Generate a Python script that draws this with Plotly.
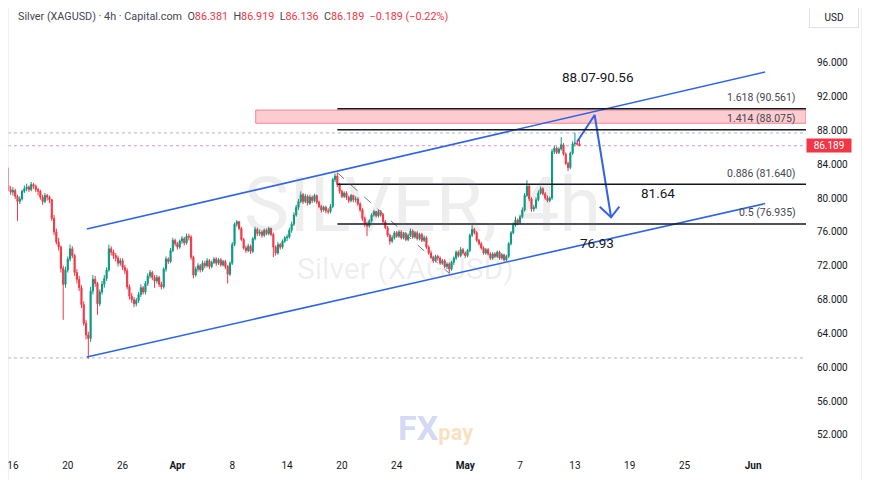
import plotly.graph_objects as go

# ---------------- data (4h candles, one row = one trading day) ----------------
open_ = [
    81.5, 81.0,
    80.7, 80.9, 80.2, 79.6, 79.9, 80.8,
    81.1, 81.3, 81.0, 81.6, 81.4, 81.0,
    80.8, 80.1, 79.6, 80.3, 80.1, 79.8,
    77.6, 76.0, 74.8, 74.2, 71.7, 69.8,
    71.5, 72.8, 74.0, 73.2, 71.2, 70.4,
    69.4, 67.4, 65.2, 63.8, 63.4, 69.0,
    70.4, 69.9, 67.5, 68.9, 69.8, 70.5,
    71.5, 74.0, 73.6, 73.2, 72.9, 72.3,
    72.6, 71.8, 71.4, 69.5, 68.4, 68.0,
    67.5, 67.9, 68.6, 69.4, 68.9, 69.9,
    70.8, 71.2, 70.6, 70.2, 70.6, 69.8,
    69.5, 71.6, 72.8, 72.5, 73.8, 75.0,
    74.6, 74.2, 74.9, 75.2, 74.7, 75.5,
    75.4, 73.0, 70.9, 71.6, 72.0, 71.5,
    72.3, 72.0, 72.6, 71.9, 72.4, 72.8,
    72.3, 72.7, 72.1, 72.5, 71.9, 71.0,
    72.3, 74.5, 76.9, 77.2, 76.4, 75.1,
    74.1, 73.8, 74.3, 73.7, 75.2, 76.3,
    75.8, 76.0, 75.6, 76.2, 75.8, 76.4,
    75.7, 74.2, 73.5, 74.5, 74.2, 74.9,
    75.3, 75.4, 76.2, 76.9, 78.0, 78.9,
    79.6, 80.4, 79.6, 80.2, 79.4, 80.1,
    79.7, 80.3, 79.5, 79.0, 78.6, 78.9,
    78.5, 78.4, 79.0, 82.2, 82.6, 81.6,
    80.8, 80.2, 80.6, 80.1, 79.7, 80.3,
    79.8, 79.9, 79.3, 78.6, 77.6, 76.9,
    76.7, 77.3, 78.0, 78.4, 77.9, 78.4,
    78.0, 77.2, 76.5, 75.6, 74.9, 75.3,
    75.9, 75.5, 76.0, 75.3, 75.8, 75.1,
    75.6, 76.1, 75.4, 75.9, 75.2, 75.7,
    75.0, 75.3, 74.2, 73.5, 73.0, 72.6,
    73.1, 72.9, 72.3, 72.6, 71.9, 72.2,
    71.6, 72.4, 72.9, 73.6, 73.2, 73.9,
    73.5, 73.2, 73.8, 75.6, 76.3, 75.9,
    75.0, 74.6, 74.1, 73.5, 73.9, 73.4,
    72.9, 73.4, 73.1, 73.6, 72.9, 73.3,
    72.7, 73.1, 74.6, 75.9, 76.8, 77.4,
    77.1, 77.8, 78.6, 80.3, 81.4, 79.9,
    78.7, 78.9, 79.8, 80.6, 81.1, 80.5,
    80.0, 79.7, 80.0, 85.5, 85.9, 85.4,
    85.8, 86.3, 85.2, 84.1, 83.6, 85.3,
    86.4, 86.5, 86.381,
]
high = [
    83.6, 81.4,
    81.3, 81.1, 80.4, 80.2, 81.0, 81.5,
    81.7, 81.5, 81.9, 81.8, 81.6, 81.2,
    81.0, 80.4, 80.6, 80.5, 80.3, 79.9,
    78.0, 76.4, 75.3, 74.4, 72.0, 71.9,
    73.1, 74.5, 74.3, 73.4, 71.6, 70.8,
    69.7, 67.8, 65.6, 64.2, 69.5, 70.9,
    70.8, 70.1, 69.2, 70.2, 70.9, 71.8,
    74.5, 74.3, 73.9, 73.5, 73.2, 72.9,
    72.9, 72.1, 71.7, 69.8, 68.8, 68.3,
    68.2, 68.9, 69.8, 69.6, 70.2, 71.1,
    71.5, 71.4, 70.9, 70.9, 70.8, 70.1,
    71.8, 73.1, 73.0, 74.1, 75.3, 75.2,
    74.8, 75.1, 75.5, 75.4, 75.8, 75.8,
    75.6, 73.2, 71.9, 72.3, 72.2, 72.6,
    72.6, 72.9, 72.8, 72.6, 73.0, 73.0,
    72.9, 72.9, 72.7, 72.7, 72.1, 72.5,
    74.8, 77.1, 77.4, 77.3, 76.6, 75.3,
    74.4, 74.6, 74.5, 75.4, 76.6, 76.5,
    76.3, 76.2, 76.4, 76.4, 76.6, 76.5,
    75.9, 74.4, 74.8, 74.7, 75.1, 75.5,
    75.7, 76.5, 77.2, 78.3, 79.2, 79.9,
    80.8, 80.6, 80.5, 80.4, 80.4, 80.3,
    80.5, 80.4, 79.7, 79.2, 79.1, 79.1,
    78.8, 79.3, 82.4, 82.9, 83.0, 81.8,
    81.0, 80.8, 80.8, 80.3, 80.5, 80.4,
    80.2, 80.1, 79.5, 78.8, 77.8, 77.2,
    77.5, 78.2, 78.6, 78.5, 78.6, 78.6,
    78.2, 77.4, 76.7, 75.8, 75.6, 76.1,
    76.1, 76.2, 76.2, 76.0, 76.0, 75.8,
    76.4, 76.3, 76.1, 76.1, 75.9, 75.9,
    75.6, 75.5, 74.4, 73.8, 73.2, 73.3,
    73.3, 73.1, 72.8, 72.8, 72.4, 72.4,
    72.6, 73.1, 73.8, 73.8, 74.2, 74.1,
    73.7, 74.0, 75.8, 76.8, 76.5, 76.1,
    75.2, 74.8, 74.3, 74.1, 74.1, 73.6,
    73.6, 73.6, 73.8, 73.8, 73.5, 73.4,
    73.3, 74.8, 76.1, 77.1, 77.8, 77.6,
    78.0, 78.9, 80.6, 82.1, 81.6, 80.1,
    79.2, 80.1, 80.9, 81.4, 81.3, 80.7,
    80.3, 80.2, 85.8, 86.2, 86.1, 86.0,
    87.2, 86.5, 85.4, 84.3, 85.5, 86.7,
    87.7, 86.7, 86.919,
]
low = [
    80.8, 80.4,
    80.3, 79.9, 77.3, 79.3, 79.7, 80.6,
    80.8, 80.7, 80.8, 81.1, 80.7, 80.3,
    79.8, 79.2, 79.4, 79.7, 79.4, 77.3,
    75.6, 74.5, 73.8, 71.2, 65.6, 69.4,
    71.2, 72.5, 72.9, 70.8, 69.9, 69.0,
    67.0, 64.9, 63.3, 61.0, 63.0, 68.6,
    69.5, 66.2, 67.2, 68.6, 69.4, 70.2,
    71.3, 73.2, 72.8, 72.5, 71.9, 72.0,
    71.5, 71.0, 69.2, 68.0, 67.6, 67.1,
    67.2, 67.6, 68.3, 68.6, 68.6, 69.6,
    70.5, 70.3, 69.4, 69.9, 69.5, 69.2,
    69.3, 71.3, 72.2, 72.3, 73.6, 74.3,
    73.9, 74.0, 74.6, 74.4, 74.5, 75.0,
    72.7, 70.5, 70.7, 71.3, 71.2, 71.3,
    71.7, 71.8, 71.6, 71.7, 72.2, 72.0,
    72.1, 71.9, 71.9, 71.6, 69.9, 70.8,
    72.1, 74.3, 76.6, 76.2, 74.9, 73.9,
    73.5, 73.6, 73.4, 73.5, 75.0, 75.5,
    75.5, 75.3, 75.4, 75.6, 75.6, 75.5,
    73.0, 73.2, 73.3, 73.9, 74.0, 74.7,
    74.9, 75.2, 75.9, 76.7, 77.8, 78.6,
    79.4, 79.3, 79.4, 79.1, 79.2, 79.4,
    79.5, 79.3, 78.8, 78.3, 78.4, 78.2,
    78.1, 78.2, 78.8, 81.9, 81.3, 80.5,
    80.0, 80.0, 79.8, 79.4, 79.5, 79.5,
    79.5, 79.1, 78.4, 77.3, 76.6, 75.5,
    76.5, 77.1, 77.8, 77.7, 77.7, 77.8,
    77.0, 76.3, 75.4, 74.5, 74.7, 75.1,
    75.3, 75.3, 75.1, 75.1, 74.9, 74.9,
    75.4, 75.2, 75.2, 75.0, 75.0, 74.8,
    74.8, 74.0, 73.3, 72.8, 72.3, 72.4,
    72.6, 72.1, 72.1, 71.7, 71.6, 71.1,
    71.4, 72.1, 72.7, 73.0, 73.0, 73.3,
    72.9, 73.0, 73.6, 75.4, 75.7, 74.8,
    74.4, 73.9, 73.3, 73.3, 73.2, 72.7,
    72.7, 72.9, 72.9, 72.7, 72.7, 72.5,
    72.5, 72.9, 74.4, 75.7, 76.6, 76.8,
    76.9, 77.6, 78.4, 80.1, 79.6, 78.4,
    78.4, 78.7, 79.6, 80.4, 80.3, 79.8,
    79.5, 79.5, 79.8, 85.2, 85.2, 85.2,
    85.6, 85.0, 83.9, 83.2, 83.4, 85.1,
    86.1, 86.2, 86.136,
]
close = [
    81.0, 80.7,
    80.9, 80.2, 79.6, 79.9, 80.8, 81.1,
    81.3, 81.0, 81.6, 81.4, 81.0, 80.8,
    80.1, 79.6, 80.3, 80.1, 79.8, 77.6,
    76.0, 74.8, 74.2, 71.7, 69.8, 71.5,
    72.8, 74.0, 73.2, 71.2, 70.4, 69.4,
    67.4, 65.2, 63.8, 63.4, 69.0, 70.4,
    69.9, 67.5, 68.9, 69.8, 70.5, 71.5,
    74.0, 73.6, 73.2, 72.9, 72.3, 72.6,
    71.8, 71.4, 69.5, 68.4, 68.0, 67.5,
    67.9, 68.6, 69.4, 68.9, 69.9, 70.8,
    71.2, 70.6, 70.2, 70.6, 69.8, 69.5,
    71.6, 72.8, 72.5, 73.8, 75.0, 74.6,
    74.2, 74.9, 75.2, 74.7, 75.5, 75.4,
    73.0, 70.9, 71.6, 72.0, 71.5, 72.3,
    72.0, 72.6, 71.9, 72.4, 72.8, 72.3,
    72.7, 72.1, 72.5, 71.9, 71.0, 72.3,
    74.5, 76.9, 77.2, 76.4, 75.1, 74.1,
    73.8, 74.3, 73.7, 75.2, 76.3, 75.8,
    76.0, 75.6, 76.2, 75.8, 76.4, 75.7,
    74.2, 73.5, 74.5, 74.2, 74.9, 75.3,
    75.4, 76.2, 76.9, 78.0, 78.9, 79.6,
    80.4, 79.6, 80.2, 79.4, 80.1, 79.7,
    80.3, 79.5, 79.0, 78.6, 78.9, 78.5,
    78.4, 79.0, 82.2, 82.6, 81.6, 80.8,
    80.2, 80.6, 80.1, 79.7, 80.3, 79.8,
    79.9, 79.3, 78.6, 77.6, 76.9, 76.7,
    77.3, 78.0, 78.4, 77.9, 78.4, 78.0,
    77.2, 76.5, 75.6, 74.9, 75.3, 75.9,
    75.5, 76.0, 75.3, 75.8, 75.1, 75.6,
    76.1, 75.4, 75.9, 75.2, 75.7, 75.0,
    75.3, 74.2, 73.5, 73.0, 72.6, 73.1,
    72.9, 72.3, 72.6, 71.9, 72.2, 71.6,
    72.4, 72.9, 73.6, 73.2, 73.9, 73.5,
    73.2, 73.8, 75.6, 76.3, 75.9, 75.0,
    74.6, 74.1, 73.5, 73.9, 73.4, 72.9,
    73.4, 73.1, 73.6, 72.9, 73.3, 72.7,
    73.1, 74.6, 75.9, 76.8, 77.4, 77.1,
    77.8, 78.6, 80.3, 81.4, 79.9, 78.7,
    78.9, 79.8, 80.6, 81.1, 80.5, 80.0,
    79.7, 80.0, 85.5, 85.9, 85.4, 85.8,
    86.3, 85.2, 84.1, 83.6, 85.3, 86.4,
    86.5, 86.38, 86.189,
]
BARS_PER_DAY = 6
FIRST_BAR_OFFSET = 2          # two bars of the previous session before "16"

# x axis: trading-day index with date labels
tick_days = [0, 4, 8, 12, 16, 20, 24, 28, 33, 37, 41, 45, 49, 54, 58]
tick_labels = ["16", "20", "26", "<b>Apr</b>", "8", "14", "20", "24", "<b>May</b>",
               "7", "13", "19", "25", "<b>Jun</b>", "5"]
price_ticks = [52, 56, 60, 64, 68, 72, 76, 80, 84, 88, 92, 96]
price_tick_text = ["%.3f" % v for v in price_ticks]

# drawings
fib_ratios = ["1.618", "1.414", "0.886", "0.5"]
fib_prices = [90.561, 88.075, 81.640, 76.935]
fib_start_day = 23.67
zone_low, zone_high, zone_start_day = 88.84, 90.41, 17.71
chan_days = [5.39, 54.88]
chan_upper = [76.34, 94.90]
chan_lower = [61.21, 79.35]
swing_days = [23.67, 31.83]
swing_prices = [83.0, 71.1]
arrow_days = [41.16, 42.44, 43.64]
arrow_prices = [86.66, 89.82, 77.73]
head_days = [42.81, 43.64, 44.24]
head_prices = [78.98, 77.73, 78.98]
range_high, range_low = 87.7, 61.1
last_price = 86.189
target_labels = ["88.07-90.56", "81.64", "76.93"]
target_days = [42.71, 47.08, 42.64]
target_prices = [94.27, 80.56, 74.69]

X_RANGE = [-0.36, 57.86]
Y_RANGE = [49.27, 102.47]

UP, DOWN = "#089981", "#f23645"
BLUE = "#2f63e8"
FONT = "Roboto"

bar_x = [(i - FIRST_BAR_OFFSET) / BARS_PER_DAY for i in range(len(close))]

fig = go.Figure()

# zone rectangle (under candles)
fig.add_shape(type="rect", xref="x", yref="y", x0=zone_start_day, x1=X_RANGE[1],
              y0=zone_low, y1=zone_high, fillcolor="rgba(242,54,69,0.25)",
              line=dict(color="rgba(242,54,69,0.55)", width=1), layer="below")

# range high / low dotted lines and last price line
for lvl, col in [(range_high, "#b2b5be"), (range_low, "#b2b5be"), (last_price, "#d79ad6")]:
    fig.add_shape(type="line", xref="paper", yref="y", x0=0, x1=1, y0=lvl, y1=lvl,
                  line=dict(color=col, width=1, dash="dot"), layer="below")

# fib levels
for r, p in zip(fib_ratios, fib_prices):
    fig.add_shape(type="line", xref="x", yref="y", x0=fib_start_day, x1=X_RANGE[1],
                  y0=p, y1=p, line=dict(color="#131722", width=1.5))
    fig.add_annotation(x=57.29, y=p, xref="x", yref="y", text="%s (%.3f)" % (r, p),
                       showarrow=False, xanchor="right", yanchor="middle", yshift=11,
                       font=dict(family=FONT, size=10.5, color="#434651"))

fig.add_trace(go.Candlestick(
    x=bar_x, open=open_, high=high, low=low, close=close,
    increasing=dict(line=dict(color=UP, width=1), fillcolor=UP),
    decreasing=dict(line=dict(color=DOWN, width=1), fillcolor=DOWN),
    whiskerwidth=0, showlegend=False, hoverinfo="skip"))

# channel lines
for ys in (chan_upper, chan_lower):
    fig.add_trace(go.Scatter(x=chan_days, y=ys, mode="lines",
                             line=dict(color=BLUE, width=1.6), showlegend=False, hoverinfo="skip"))
# swing dashed line
fig.add_trace(go.Scatter(x=swing_days, y=swing_prices, mode="lines",
                         line=dict(color="#787b86", width=1, dash="dash"),
                         showlegend=False, hoverinfo="skip"))
# projection arrow
fig.add_trace(go.Scatter(x=arrow_days, y=arrow_prices, mode="lines",
                         line=dict(color=BLUE, width=2), showlegend=False, hoverinfo="skip"))
fig.add_trace(go.Scatter(x=head_days, y=head_prices, mode="lines",
                         line=dict(color=BLUE, width=2), showlegend=False, hoverinfo="skip"))

for t, d, p in zip(target_labels, target_days, target_prices):
    fig.add_annotation(x=d, y=p, xref="x", yref="y", text=t, showarrow=False,
                       xanchor="center", yanchor="middle",
                       font=dict(family=FONT, size=13.5, color="#131722"))

# watermarks (paper coords: plot area spans page x 8..806, y 8..458)
fig.add_annotation(x=0.519, y=0.562, xref="paper", yref="paper", text="SILVER, 4h",
                   showarrow=False, xanchor="center", yanchor="middle",
                   font=dict(family=FONT, size=76, color="rgba(120,123,134,0.13)"))
fig.add_annotation(x=0.4975, y=0.422, xref="paper", yref="paper", text="Silver (XAGUSD)",
                   showarrow=False, xanchor="center", yanchor="middle",
                   font=dict(family=FONT, size=30, color="rgba(120,123,134,0.13)"))
fig.add_annotation(x=0.536, y=0.0667, xref="paper", yref="paper",
                   text="<b><span style='color:rgba(110,120,220,0.30);font-size:34px'>FX</span>"
                        "<span style='color:rgba(240,170,70,0.35);font-size:22px'>pay</span></b>",
                   showarrow=False, xanchor="center", yanchor="middle",
                   font=dict(family=FONT, size=22))

# header
red = "color:#f23645"
header = ("Silver (XAGUSD) · 4h · Capital.com  "
          "O<span style='%s'>86.381</span>  H<span style='%s'>86.919</span>  "
          "L<span style='%s'>86.136</span>  C<span style='%s'>86.189</span>  "
          "<span style='%s'>−0.189 (−0.22%%)</span>") % (red, red, red, red, red)
fig.add_annotation(x=0.010, y=0.982, xref="paper", yref="paper", text=header,
                   showarrow=False, xanchor="left", yanchor="middle",
                   font=dict(family=FONT, size=10.8, color="#434651"))

# currency box and last price label on the axis
fig.add_annotation(x=1.0351, y=0.98, xref="paper", yref="paper", text="USD",
                   showarrow=False, xanchor="center", yanchor="middle",
                   width=46, height=18, bgcolor="#ffffff",
                   bordercolor="#e0e3eb", borderwidth=1,
                   font=dict(family=FONT, size=10, color="#131722"))
fig.add_annotation(x=1.0288, y=last_price, xref="paper", yref="y", text="%.3f" % last_price,
                   showarrow=False, xanchor="center", yanchor="middle",
                   width=42, height=11, bgcolor="#f23645",
                   font=dict(family=FONT, size=10, color="#ffffff"))

# frame lines
fig.add_shape(type="line", xref="paper", yref="paper", x0=0, x1=0, y0=-0.05, y1=1,
              line=dict(color="#e0e3eb", width=1))
fig.add_shape(type="line", xref="paper", yref="paper", x0=1.0702, x1=1.0702, y0=-0.05, y1=1,
              line=dict(color="#e0e3eb", width=1))

# the page body adds an 8px margin, so the figure is 862x472 and starts at (8, 8)
fig.update_layout(
    width=862, height=472,
    margin=dict(l=0, r=64, t=0, b=22),
    paper_bgcolor="#ffffff", plot_bgcolor="#ffffff",
    showlegend=False,
    xaxis=dict(range=X_RANGE, tickvals=tick_days, ticktext=tick_labels,
               showgrid=False, zeroline=False, showline=False, ticks="",
               ticklabeloverflow="allow",
               rangeslider=dict(visible=False), fixedrange=True,
               tickfont=dict(family=FONT, size=10, color="#131722")),
    yaxis=dict(range=Y_RANGE, side="right", tickvals=price_ticks, ticktext=price_tick_text,
               showgrid=False, zeroline=False, showline=False, ticks="",
               ticklabelstandoff=10,
               tickfont=dict(family=FONT, size=10, color="#131722")),
)

fig.write_html("out.html", config={"displayModeBar": False})
